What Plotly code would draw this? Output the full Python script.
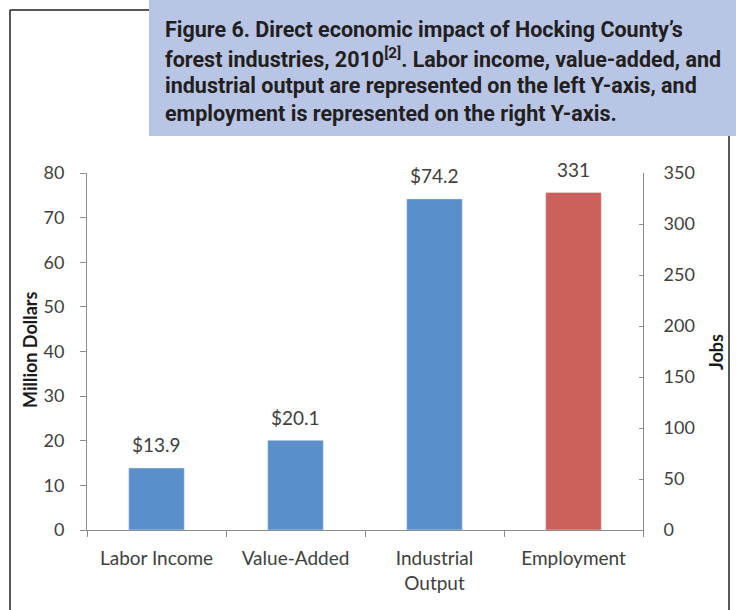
import plotly.graph_objects as go

categories = ["Labor Income", "Value-Added", "Industrial<br>Output", "Employment"]
dollar_values = [13.9, 20.1, 74.2]
dollar_labels = ["$13.9", "$20.1", "$74.2"]
jobs_values = [331]
jobs_labels = ["331"]
left_ticks = [0, 10, 20, 30, 40, 50, 60, 70, 80]
right_ticks = [0, 50, 100, 150, 200, 250, 300, 350]
title_lines = [
    "<b>Figure 6. Direct economic impact of Hocking County’s</b>",
    "<b>forest industries, 2010<sup>[2]</sup>. Labor income, value-added, and</b>",
    "<b>industrial output are represented on the left Y-axis, and</b>",
    "<b>employment is represented on the right Y-axis.</b>",
]

W, H = 736, 610
L, R, T, B = 87, 643, 173, 530

def px(x):
    return (x - L) / (R - L)

def py(y):
    return (B - y) / (B - T)

FAM = "Lato, Open Sans, sans-serif"
tick_font = dict(family=FAM, size=19, color="#404040")
ytick_font = dict(family=FAM, size=18, color="#404040")

fig = go.Figure()
fig.add_trace(go.Bar(x=categories[:3], y=dollar_values,
                     marker_color="#5b8fca", yaxis="y", width=0.4))
fig.add_trace(go.Bar(x=categories[3:], y=jobs_values,
                     marker_color="#ca615c", yaxis="y2", width=0.4))

for c, v, t in zip(categories[:3], dollar_values, dollar_labels):
    fig.add_annotation(x=c, y=v, xref="x", yref="y", text=t, showarrow=False,
                       yanchor="middle", yshift=23, font=tick_font)
for c, v, t in zip(categories[3:], jobs_values, jobs_labels):
    fig.add_annotation(x=c, y=v, xref="x", yref="y2", text=t, showarrow=False,
                       yanchor="middle", yshift=23, font=tick_font)

axis_col = "#8c8c8c"
fig.update_layout(
    width=W, height=H,
    margin=dict(l=L, r=W - R, t=T, b=H - B, pad=0),
    paper_bgcolor="white", plot_bgcolor="white",
    showlegend=False, barmode="overlay",
    xaxis=dict(categoryorder="array", categoryarray=categories,
               showline=True, linecolor=axis_col, linewidth=1,
               ticks="outside", ticklen=6, tickcolor=axis_col, tickson="boundaries",
               tickfont=tick_font, showgrid=False, fixedrange=True,
               range=[-0.5, 3.5], ticklabelstandoff=11),
    yaxis=dict(range=[0, 80], tickvals=left_ticks, showline=True, linecolor=axis_col,
               ticks="outside", ticklen=6, tickcolor=axis_col, showgrid=False,
               zeroline=False, tickfont=ytick_font, ticklabelstandoff=12, fixedrange=True),
    yaxis2=dict(range=[0, 350], tickvals=right_ticks, overlaying="y", side="right",
                showline=True, linecolor=axis_col, ticks="inside", ticklen=4,
                tickcolor=axis_col, showgrid=False, zeroline=False,
                tickfont=ytick_font, ticklabelstandoff=16, fixedrange=True),
    font=dict(family=FAM),
)

line_col = "#231f20"
fig.add_shape(type="line", xref="paper", yref="paper", x0=px(10), x1=px(10), y0=py(10), y1=py(615),
              line=dict(color=line_col, width=1.5))
fig.add_shape(type="line", xref="paper", yref="paper", x0=px(10), x1=px(149), y0=py(10), y1=py(10),
              line=dict(color=line_col, width=1.5))
fig.add_shape(type="line", xref="paper", yref="paper", x0=px(729), x1=px(729), y0=py(136), y1=py(615),
              line=dict(color=line_col, width=1.5))
fig.add_shape(type="rect", xref="paper", yref="paper", x0=px(149), x1=px(740), y0=py(136), y1=py(-4),
              fillcolor="#b9c5e5", line=dict(width=0), layer="above")

line_centers = [29, 58, 86, 114]
for txt, yc in zip(title_lines, line_centers):
    fig.add_annotation(xref="paper", yref="paper", x=px(163), y=py(yc), xanchor="left",
                       yanchor="middle", text=txt, showarrow=False, align="left",
                       font=dict(family="Roboto, sans-serif", size=21.5, color="#231f20"))

fig.add_annotation(xref="paper", yref="paper", x=px(30), y=py(350), text="<b>Million Dollars</b>",
                   textangle=-90, showarrow=False, xanchor="center", yanchor="middle",
                   font=dict(family=FAM, size=18, color="#1a1a1a"))
fig.add_annotation(xref="paper", yref="paper", x=px(716), y=py(352), text="<b>Jobs</b>",
                   textangle=-90, showarrow=False, xanchor="center", yanchor="middle",
                   font=dict(family=FAM, size=18, color="#1a1a1a"))

fig.write_html("out.html", config={"displayModeBar": False},
               post_script="document.body.style.margin='0';")
